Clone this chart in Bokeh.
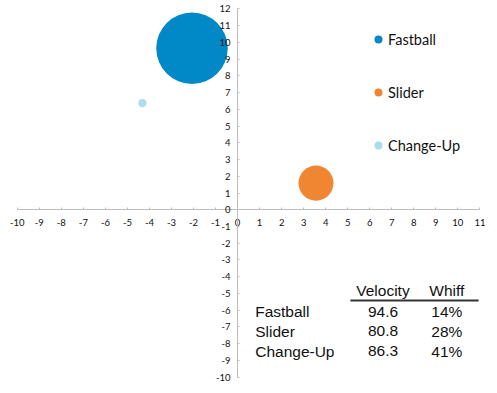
from bokeh.plotting import figure
from bokeh.models import (ColumnDataSource, Range1d, LinearAxis, FixedTicker,
                          Legend, LegendItem, PrintfTickFormatter)
from bokeh.core.properties import value
from bokeh.embed import file_html
from bokeh.resources import INLINE
import math

# ---------------- data ----------------
pitches = ["Fastball", "Slider", "Change-Up"]
x_vals = [-2.07, 3.56, -4.32]
y_vals = [9.65, 1.59, 6.37]
bubble_size = [72.5, 17.4, 1.0]
velocity = [94.6, 80.8, 86.3]
whiff = ["14%", "28%", "41%"]
colors = ["#0088C7", "#F08532", "#ADDDE8"]
x_ticks = list(range(-10, 12))
y_ticks = list(range(-10, 13))
table_header = ["Velocity", "Whiff"]

# ---------------- figure ----------------
p = figure(width=489, height=385, output_backend="svg", toolbar_location=None,
           x_range=Range1d(-10.4, 11.3), y_range=Range1d(-10.5, 12.5),
           x_axis_type=None, y_axis_type=None,
           min_border_left=8, min_border_right=3,
           min_border_top=0, min_border_bottom=0)
p.outline_line_color = None
p.xgrid.visible = False
p.ygrid.visible = False
p.background_fill_color = "white"
p.border_fill_color = "white"

AX_COLOR = "#BDBDBD"
TICK_FONT = "Lato"

def style_axis(ax, standoff, bounds):
    ax.axis_line_color = AX_COLOR
    ax.major_tick_line_color = AX_COLOR
    ax.major_tick_in = 2
    ax.major_tick_out = 0
    ax.minor_tick_line_color = None
    ax.major_label_text_font = TICK_FONT
    ax.major_label_text_font_size = "9.5px"
    ax.major_label_text_color = "#111111"
    ax.major_label_standoff = standoff
    ax.formatter = PrintfTickFormatter(format="%d")
    ax.fixed_location = 0
    ax.bounds = bounds

xaxis = LinearAxis(ticker=FixedTicker(ticks=x_ticks))
style_axis(xaxis, 9, (x_ticks[0], x_ticks[-1]))
p.add_layout(xaxis, "below")
yaxis = LinearAxis(ticker=FixedTicker(ticks=y_ticks))
style_axis(yaxis, 7, (y_ticks[0], y_ticks[-1]))
p.add_layout(yaxis, "left")

# bubbles: area proportional to bubble_size
max_d = 71.5
vmax = max(bubble_size)
diam = [max_d * math.sqrt(v / vmax) for v in bubble_size]
src = ColumnDataSource(dict(x=x_vals, y=y_vals, d=diam, c=colors, name=pitches))
r = p.scatter("x", "y", size="d", fill_color="c", line_color=None, source=src)

# legend
items = [LegendItem(label=nm, renderers=[r], index=i) for i, nm in enumerate(pitches)]
legend = Legend(items=items, location=(360, 230), orientation="vertical",
                glyph_width=20, glyph_height=20, label_standoff=-1, spacing=33,
                padding=0, margin=0, border_line_color=None,
                background_fill_alpha=0,
                label_text_font="Lato", label_text_font_size="14.5px",
                label_text_color="#111111")
p.add_layout(legend)

# table
TABLE_FONT = "Liberation Sans"
FS = "15.5px"
col_label_x = 0.8
col_vel_x = 6.6
col_whiff_x = 9.5
header_y = -4.82
row_y0 = -6.08
row_dy = -1.19
row_y = [row_y0 + i * row_dy for i in range(len(pitches))]

common = dict(text_font_size=FS, text_color="#111111", text_baseline="middle")
p.text(x=[col_vel_x, col_whiff_x], y=[header_y, header_y], text=table_header,
       text_align="center", text_font=value(TABLE_FONT), **common)
p.segment(x0=[5.12], y0=[-5.42], x1=[10.94], y1=[-5.42],
          line_color="#333333", line_width=2)
p.text(x=[col_label_x] * len(pitches), y=row_y, text=pitches,
       text_align="left", text_font=value(TABLE_FONT), **common)
p.text(x=[col_vel_x] * len(pitches), y=row_y, text=[f"{v:.1f}" for v in velocity],
       text_align="center", text_font=value(TABLE_FONT), **common)
p.text(x=[col_whiff_x] * len(pitches), y=row_y, text=whiff,
       text_align="center", text_font=value(TABLE_FONT), **common)

open("out.html", "w").write(file_html(p, INLINE))
